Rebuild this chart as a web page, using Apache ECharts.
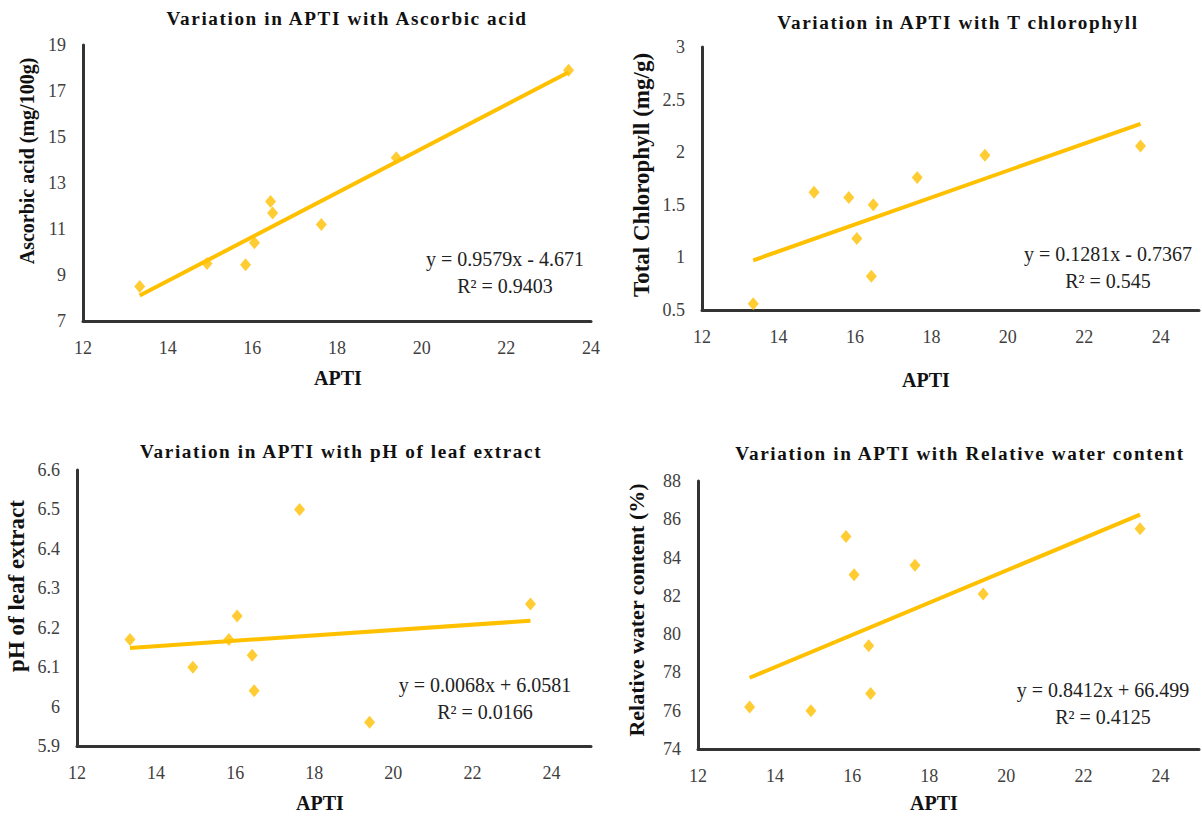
<!DOCTYPE html>
<html><head><meta charset="utf-8">
<script src="https://cdn.jsdelivr.net/npm/echarts@6/dist/echarts.min.js"></script>
<style>
html,body{margin:0;padding:0;background:#fff}
#c{width:1202px;height:816px}
#c text[style*="19.2px"]{letter-spacing:1.6px}
</style>
</head><body><div id="c"></div>
<script>
// ---- data ----
const apti = [13.34, 14.93, 15.84, 16.05, 16.43, 16.48, 17.63, 19.4, 23.47];
const ascorbicAcid = [8.5, 9.5, 9.45, 10.4, 12.2, 11.7, 11.2, 14.1, 17.9];
const totalChlorophyll = [0.56, 1.62, 1.57, 1.18, 0.82, 1.5, 1.76, 1.97, 2.06];
const leafPH = [6.17, 6.1, 6.17, 6.23, 6.13, 6.04, 6.5, 5.96, 6.26];
const relWater = [76.2, 76.0, 85.1, 83.1, 79.4, 76.9, 83.6, 82.1, 85.5];
const titles = ['Variation in APTI with Ascorbic acid', 'Variation in APTI with T chlorophyll',
  'Variation in APTI with pH of leaf extract', 'Variation in APTI with Relative water content'];
const yNames = ['Ascorbic acid (mg/100g)', 'Total Chlorophyll (mg/g)', 'pH of leaf extract', 'Relative water content (%)'];
const slopes = [0.9579, 0.1281, 0.0068, 0.8412];
const intercepts = [-4.671, -0.7367, 6.0581, 66.499];
const eqTexts = ['y = 0.9579x - 4.671', 'y = 0.1281x - 0.7367', 'y = 0.0068x + 6.0581', 'y = 0.8412x + 66.499'];
const r2Texts = ['R² = 0.9403', 'R² = 0.545', 'R² = 0.0166', 'R² = 0.4125'];
const yMins = [7, 0.5, 5.9, 74];
const yMaxs = [19, 3, 6.6, 88];
const yIntervals = [2, 0.5, 0.1, 2];
const xMaxs = [24, 25, 25, 25];
const yValues = [ascorbicAcid, totalChlorophyll, leafPH, relWater];

// ---- layout ----
const grids = [
  {left: 83, top: 45, width: 508, height: 276},
  {left: 702, top: 47, width: 497, height: 263},
  {left: 77, top: 470, width: 514, height: 276},
  {left: 698, top: 481, width: 502, height: 268}
];
const titlePos = [[347, 18], [958, 22], [341, 451], [960, 453]];
const yNamePos = [[27, 161], [641, 175], [16, 586], [636, 610]];
const yNameSize = [20, 23, 23, 22];
const xNamePos = [[338, 378], [926, 380], [320, 803], [934, 803]];
const eqPos = [[505, 259], [1108, 254], [485, 685], [1103, 690]];
const eqGap = 27;

const GOLD = '#FFC000';
const SERIF = '"Liberation Serif", "Times New Roman", serif';
const chart = echarts.init(document.getElementById('c'), null, {renderer: 'svg'});

const xAxes = [], yAxes = [], series = [], graphic = [];
const xMin = Math.min(...apti), xMax = Math.max(...apti);
for (let i = 0; i < 4; i++) {
  xAxes.push({
    gridIndex: i, type: 'value', min: 12, max: xMaxs[i], interval: 2,
    axisLine: {show: true, onZero: false, lineStyle: {color: '#333', width: 3}},
    axisTick: {show: false}, splitLine: {show: false},
    axisLabel: {color: '#404040', fontFamily: SERIF, fontSize: 18, margin: 18,
      showMaxLabel: true,
      formatter: v => (Math.round(v) % 2 === 0 ? String(Math.round(v)) : '')}
  });
  yAxes.push({
    gridIndex: i, type: 'value', min: yMins[i], max: yMaxs[i], interval: yIntervals[i],
    axisLine: {show: true, onZero: false, lineStyle: {color: '#333', width: 3}},
    axisTick: {show: false}, splitLine: {show: false},
    axisLabel: {color: '#404040', fontFamily: SERIF, fontSize: 18, margin: 17,
      formatter: v => String(Math.round(v * 10) / 10)}
  });
  series.push({
    type: 'scatter', xAxisIndex: i, yAxisIndex: i, symbol: 'diamond', symbolSize: [11, 13],
    itemStyle: {color: GOLD}, data: apti.map((x, k) => [x, yValues[i][k]]), z: 3
  });
  series.push({
    type: 'line', xAxisIndex: i, yAxisIndex: i, showSymbol: false, symbol: 'none',
    lineStyle: {color: GOLD, width: 4}, z: 2,
    data: [[xMin, slopes[i] * xMin + intercepts[i]], [xMax, slopes[i] * xMax + intercepts[i]]]
  });
  graphic.push({type: 'text', x: titlePos[i][0], y: titlePos[i][1],
    style: {text: titles[i], fill: '#111', font: 'bold 19.2px ' + SERIF, align: 'center', verticalAlign: 'middle'}});
  graphic.push({type: 'text', x: yNamePos[i][0], y: yNamePos[i][1], rotation: Math.PI / 2,
    style: {text: yNames[i], fill: '#111', font: 'bold ' + yNameSize[i] + 'px ' + SERIF, align: 'center', verticalAlign: 'middle'}});
  graphic.push({type: 'text', x: xNamePos[i][0], y: xNamePos[i][1],
    style: {text: 'APTI', fill: '#111', font: 'bold 20px ' + SERIF, align: 'center', verticalAlign: 'middle'}});
  graphic.push({type: 'text', x: eqPos[i][0], y: eqPos[i][1],
    style: {text: eqTexts[i], fill: '#222', font: '20px ' + SERIF, align: 'center', verticalAlign: 'middle'}});
  graphic.push({type: 'text', x: eqPos[i][0], y: eqPos[i][1] + eqGap,
    style: {text: r2Texts[i], fill: '#222', font: '20px ' + SERIF, align: 'center', verticalAlign: 'middle'}});
}

chart.setOption({
  animation: false,
  backgroundColor: '#fff',
  grid: grids,
  xAxis: xAxes,
  yAxis: yAxes,
  series: series,
  graphic: graphic
});
</script>
</body></html>
